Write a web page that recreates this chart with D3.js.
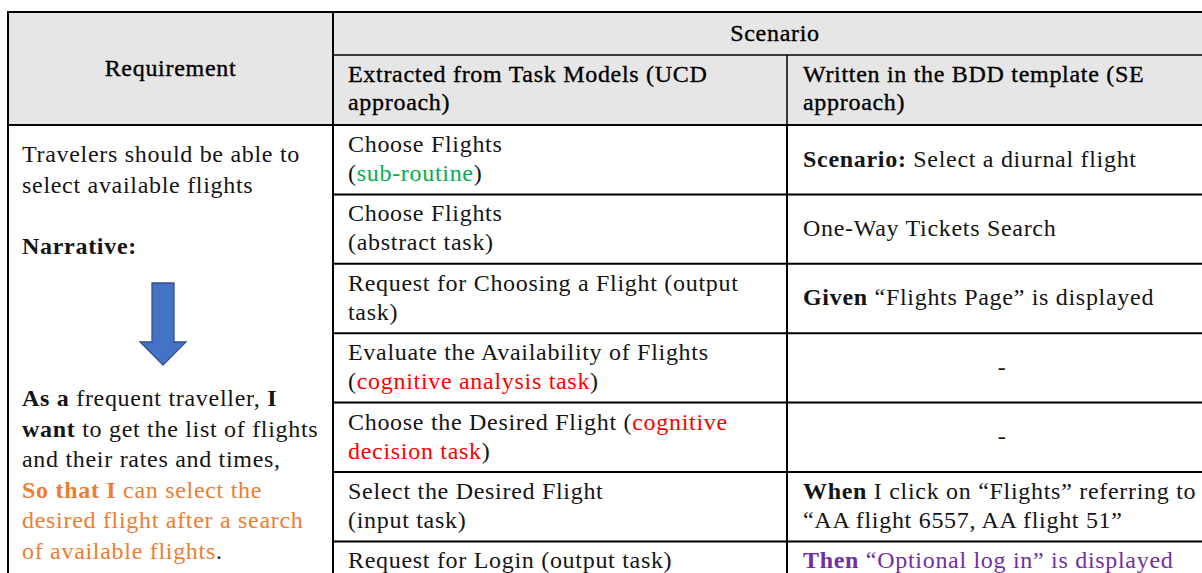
<!DOCTYPE html>
<html>
<head>
<meta charset="utf-8">
<script src="https://cdn.jsdelivr.net/npm/d3@7"></script>
<style>
  html, body { margin: 0; padding: 0; background: #ffffff; overflow: hidden; }
  svg { display: block; }
  text { font-family: "Liberation Serif", "Times New Roman", serif; }
</style>
</head>
<body>
<svg id="chart" width="1202" height="573"></svg>
<script>
// ---------------- data ----------------
const headerRequirement = "Requirement";
const headerScenario = "Scenario";
const headerUCD = ["Extracted from Task Models (UCD", "approach)"];
const headerBDD = ["Written in the BDD template (SE", "approach)"];

// segment: [text, style]  style: b = bold, g = green, r = red, o = orange, bo = bold orange, p = purple, bp = bold purple
const requirementLines = [
  [["Travelers should be able to"]],
  [["select available flights"]],
  [],
  [["Narrative:", "b"]],
  [], [], [], [],
  [["As a", "b"], [" frequent traveller, "], ["I", "b"]],
  [["want", "b"], [" to get the list of flights"]],
  [["and their rates and times,"]],
  [["So that I", "bo"], [" can select the", "o"]],
  [["desired flight after a search", "o"]],
  [["of available flights", "o"], ["."]]
];

const ucdTasks = [
  [[["Choose Flights"]], [["("], ["sub-routine", "g"], [")"]]],
  [[["Choose Flights"]], [["(abstract task)"]]],
  [[["Request for Choosing a Flight (output"]], [["task)"]]],
  [[["Evaluate the Availability of Flights"]], [["("], ["cognitive analysis task", "r"], [")"]]],
  [[["Choose the Desired Flight ("], ["cognitive", "r"]], [["decision task", "r"], [")"]]],
  [[["Select the Desired Flight"]], [["(input task)"]]],
  [[["Request for Login (output task)"]]]
];

const bddSteps = [
  [[["Scenario:", "b"], [" Select a diurnal flight"]]],
  [[["One-Way Tickets Search"]]],
  [[["Given", "b"], [" \u201CFlights Page\u201D is displayed"]]],
  [[["-"]]],
  [[["-"]]],
  [[["When", "b"], [" I click on \u201CFlights\u201D referring to"]], [["\u201CAA flight 6557, AA flight 51\u201D"]]],
  [[["Then", "bp"], [" \u201COptional log in\u201D is displayed", "p"]]]
];
const bddCentered = [false, false, false, true, true, false, false];

// ---------------- styles ----------------
const palette = { k: "#141414", g: "#00b050", r: "#ff0000", o: "#ed7d31", p: "#7030a0" };
function segColor(s) {
  if (!s) return palette.k;
  const c = s.replace("b", "");
  return c ? palette[c] : palette.k;
}
function segBold(s) { return !!s && s.indexOf("b") >= 0; }

const FS = 24, LS = 0.7;
const svg = d3.select("#chart");

// layout
const x = d3.scaleOrdinal().domain(["req", "ucd", "bdd", "end"]).range([8, 333, 787, 1217]);
const nRows = ucdTasks.length;
const rowTop = d3.scaleLinear().domain([0, nRows - 1]).range([125, 541.4]);
const rowH = i => (i < nRows - 1 ? rowTop(1) - rowTop(0) : 40);
const headerTop = 12, headerMid = 55, headerBottom = 125, tableBottom = 600;

// header background
svg.append("rect").attr("x", x("req")).attr("y", headerTop)
  .attr("width", x("end") - x("req")).attr("height", headerBottom - headerTop)
  .attr("fill", "#e7e6e6");

function addLine(g, segs, tx, ty, anchor, header) {
  const t = g.append("text").attr("x", tx).attr("y", ty)
    .attr("font-size", FS).attr("letter-spacing", LS)
    .attr("text-anchor", anchor || "start")
    .style("white-space", "pre");
  segs.forEach(s => {
    t.append("tspan").text(s[0])
      .attr("fill", header ? "#000" : segColor(s[1]))
      .attr("font-weight", segBold(s[1]) ? "bold" : "normal")
      .attr("stroke", header ? "#000" : null)
      .attr("stroke-width", header ? 0.35 : null);
  });
  return t;
}

const g = svg.append("g");

// header texts
addLine(g, [[headerRequirement]], (x("req") + x("ucd")) / 2, 76, "middle", true);
addLine(g, [[headerScenario]], (x("ucd") + x("end")) / 2, 41, "middle", true);
headerUCD.forEach((l, i) => addLine(g, [[l]], x("ucd") + 15, 82 + i * 28, "start", true));
headerBDD.forEach((l, i) => addLine(g, [[l]], x("bdd") + 16, 82 + i * 28, "start", true));

// requirement column
const reqLH = 30.5;
requirementLines.forEach((segs, i) => {
  if (segs.length) addLine(g, segs, x("req") + 14, 162 + i * reqLH, "start");
});

// arrow (drawn within the blank lines of the narrative)
const ax = x("req") + 155, ay0 = 283, ay1 = 365, shaftW = 22, headW = 46, headH = 23;
svg.append("path")
  .attr("d", d3.line()([
    [ax - shaftW / 2, ay0], [ax + shaftW / 2, ay0], [ax + shaftW / 2, ay1 - headH],
    [ax + headW / 2, ay1 - headH], [ax, ay1], [ax - headW / 2, ay1 - headH],
    [ax - shaftW / 2, ay1 - headH]
  ]) + "Z")
  .attr("fill", "#4472c4").attr("stroke", "#2f528f").attr("stroke-width", 1.3)
  .attr("stroke-linejoin", "miter");

// scenario rows
const cellLH = 29, baseOff = 6.8;
function cellBlock(lines, i, tx, anchor) {
  const c = rowTop(i) + rowH(i) / 2;
  const n = lines.length;
  lines.forEach((segs, j) => {
    addLine(g, segs, tx, c + (j - (n - 1) / 2) * cellLH + baseOff, anchor);
  });
}
ucdTasks.forEach((lines, i) => cellBlock(lines, i, x("ucd") + 15, "start"));
bddSteps.forEach((lines, i) => {
  if (bddCentered[i]) cellBlock(lines, i, (x("bdd") + x("end")) / 2, "middle");
  else cellBlock(lines, i, x("bdd") + 16, "start");
});

// grid lines
const grid = svg.append("g").attr("stroke", "#000").attr("fill", "none");
function hline(y, x1, x2, w) { grid.append("line").attr("x1", x1).attr("x2", x2).attr("y1", y).attr("y2", y).attr("stroke-width", w); }
function vline(xx, y1, y2, w) { grid.append("line").attr("x1", xx).attr("x2", xx).attr("y1", y1).attr("y2", y2).attr("stroke-width", w); }

hline(headerTop, x("req") - 1, x("end"), 2);
hline(headerMid, x("ucd"), x("end"), 1.3);
hline(headerBottom, x("req") - 1, x("end"), 2);
d3.range(1, nRows).forEach(i => hline(rowTop(i), x("ucd"), x("end"), 2));
vline(x("req"), headerTop - 1, tableBottom, 2);
vline(x("ucd"), headerTop, tableBottom, 2);
vline(x("bdd"), headerMid, headerBottom, 1.5);
vline(x("bdd"), headerBottom, tableBottom, 2);
</script>
</body>
</html>
